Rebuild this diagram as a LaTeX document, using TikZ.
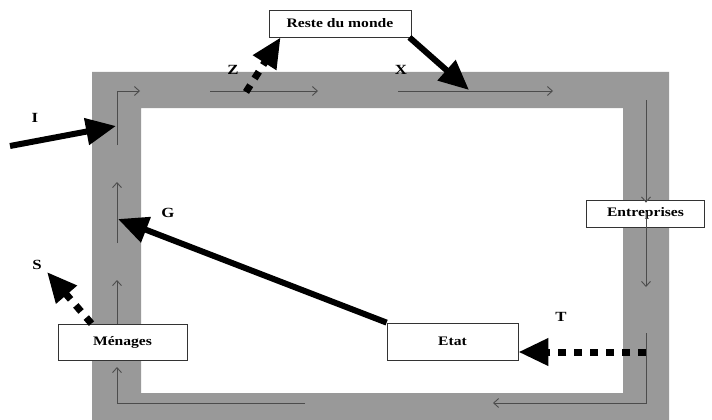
\documentclass[tikz,border=0pt]{standalone}
\usepackage{fontspec}
\setmainfont{Liberation Serif}[FakeStretch=1.2]
\usetikzlibrary{arrows.meta}

\begin{document}
\begin{tikzpicture}[x=1pt,y=-1pt]

            \tikzset{boite/.style={draw=black!80, fill=white, line width=0.8pt, minimum height=27pt, inner sep=0pt, font=\fontsize{13}{15}\selectfont\bfseries}}
            \tikzset{flux/.style={draw=black!70, line width=0.9pt, -{Straight Barb[length=5pt,width=9pt]}}}
            \tikzset{gros/.style={line width=6pt, -{Triangle[length=30pt,width=26pt]}}}
            \tikzset{pointille/.style={line width=7pt, dash pattern=on 8pt off 8pt, -{Triangle[length=30pt,width=26pt]}}}
            \tikzset{lettre/.style={font=\fontsize{14}{16}\selectfont\bfseries}}

            \useasboundingbox (0,0) rectangle (712,420);

            \fill [black!40, even odd rule] (92,72) rectangle (669,420) (141,108) rectangle (623,393);

            \node [boite, minimum width=142pt] (monde) at (340,23.5) {Reste du monde};
            \node [boite, minimum width=118pt] (entr) at (645.5,213.5) {Entreprises};
            \node [boite, minimum width=129pt, minimum height=36pt] (menages) at (122.5,342) {Ménages};
            \node [boite, minimum width=131pt, minimum height=37pt] (etat) at (452.5,341.5) {Etat};

            \draw [flux] (117,145) |- (140,91);
            \draw [flux] (210,91) -- (318,91);
            \draw [flux] (398,91) -- (553,91);
            \draw [flux] (646,100) -- ([yshift=-3pt]entr.north -| 646,0);
            \draw [flux] ([yshift=15pt]entr.south -| 646,0) -- (646,287);
            \draw [flux] (646,333) |- (493,403);
            \draw [flux] (305,403) -| (117,367);
            \draw [flux] (menages.north -| 117,0) -- (117,280);
            \draw [flux] (117,243) -- (117,182);

            \coordinate (Idep) at (10,146);
            \coordinate (Iarr) at (116,126);
            \coordinate (Zdep) at (246,92);
            \coordinate (Xarr) at (469,90);
            \coordinate (Garr) at (118,219);
            \coordinate (Sarr) at (47,272);
            \coordinate (Tdep) at (646,352);

            \draw [gros] (Idep) -- (Iarr);
            \draw [pointille] (Zdep) -- ([xshift=12pt]monde.south west);
            \draw [gros] ([xshift=-2pt]monde.south east) -- (Xarr);
            \draw [gros] (etat.north west) -- (Garr);
            \draw [pointille] ([xshift=-31pt]menages.north) -- (Sarr);
            \draw [pointille] (Tdep) -- (Tdep -| etat.east);

            \node [lettre] (lI) at (35,118) {I};
            \node [lettre] (lZ) at (233,70) {Z};
            \node [lettre] (lX) at (401,70) {X};
            \node [lettre] (lG) at (168,213) {G};
            \node [lettre] (lS) at (37,265) {S};
            \node [lettre] (lT) at (561,317) {T};

\end{tikzpicture}
\end{document}
